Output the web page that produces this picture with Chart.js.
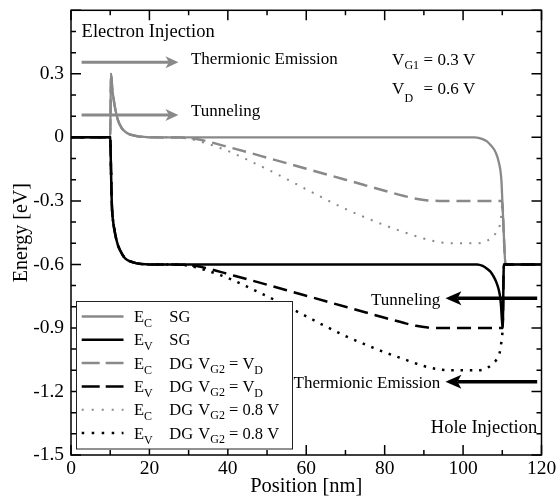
<!DOCTYPE html>
<html>
<head>
<meta charset="utf-8">
<title>Band edges</title>
<script src="https://cdn.jsdelivr.net/npm/chart.js@4.4.1/dist/chart.umd.min.js"></script>
<style>
    html, body { margin: 0; padding: 0; background: #fff; }
    canvas { display: block; }
</style>
</head>
<body>
<canvas id="bandChart" width="558" height="502"></canvas>
<script>
// Valores: posicion [nm] y energia [eV]
const ecSgPos = [0, 10, 10.2, 10.5, 11, 11.5, 12, 12.5, 13, 14, 15, 16, 17, 18, 20, 50, 80, 103, 105, 106, 107, 108, 108.7, 109.2, 109.5, 109.8, 110, 110.3, 110.6, 110.8, 120];
const ecSgEnergy = [0, 0, 0.3, 0.235, 0.165, 0.115, 0.08, 0.058, 0.042, 0.024, 0.014, 0.009, 0.005, 0.003, 0, 0, 0, 0, -0.008, -0.018, -0.036, -0.06, -0.09, -0.125, -0.154, -0.21, -0.296, -0.42, -0.546, -0.6, -0.6];

const evSgPos = [0, 10, 10.2, 10.4, 10.7, 11.1, 11.6, 12.1, 13, 13.8, 15, 16.8, 18, 20, 60, 100, 103.6, 105, 106.1, 107, 107.8, 108.5, 109.1, 109.5, 109.7, 109.9, 110.1, 110.4, 120];
const evSgEnergy = [0, 0, -0.15, -0.31, -0.39, -0.44, -0.485, -0.516, -0.55, -0.571, -0.585, -0.595, -0.598, -0.6, -0.6, -0.6, -0.6, -0.607, -0.62, -0.635, -0.658, -0.685, -0.72, -0.76, -0.8, -0.86, -0.9, -0.6, -0.6];

const ecDgPos = [0, 10, 10.2, 10.5, 11, 11.5, 12, 12.5, 13, 14, 15, 16, 17, 18, 20, 28, 32, 35, 40, 45, 50, 55, 60, 65, 70, 75, 80, 85, 88, 91, 94, 100, 109.9, 110.1, 110.3, 110.6, 110.8, 120];
const ecDgEnergy = [0, 0, 0.3, 0.235, 0.165, 0.115, 0.08, 0.058, 0.042, 0.024, 0.014, 0.009, 0.005, 0.003, 0, -0.001, -0.008, -0.02, -0.045, -0.07, -0.096, -0.122, -0.148, -0.174, -0.2, -0.226, -0.252, -0.277, -0.29, -0.298, -0.3, -0.3, -0.3, -0.33, -0.42, -0.546, -0.6, -0.6];

const evDgPos = [0, 10, 10.2, 10.4, 10.7, 11.1, 11.6, 12.1, 13, 13.8, 15, 16.8, 18, 20, 28, 32, 35, 40, 45, 50, 55, 60, 65, 70, 75, 80, 85, 88, 91, 94, 100, 110.1, 110.4, 120];
const evDgEnergy = [0, 0, -0.15, -0.31, -0.39, -0.44, -0.485, -0.516, -0.55, -0.571, -0.585, -0.595, -0.598, -0.6, -0.601, -0.608, -0.62, -0.645, -0.67, -0.696, -0.722, -0.748, -0.774, -0.8, -0.826, -0.852, -0.877, -0.89, -0.898, -0.9, -0.9, -0.9, -0.6, -0.6];

const ecDg08Pos = [0, 10, 10.2, 10.5, 11, 11.5, 12, 12.5, 13, 14, 15, 16, 17, 18, 20, 26, 30, 34, 38, 42, 46, 50, 55, 60, 65, 70, 75, 80, 85, 90, 94, 98, 104, 106, 107.5, 108.5, 109.3, 109.7, 110, 110.1];
const ecDg08Energy = [0, 0, 0.3, 0.235, 0.165, 0.115, 0.08, 0.058, 0.042, 0.024, 0.014, 0.009, 0.005, 0.003, 0, 0, -0.006, -0.025, -0.05, -0.08, -0.115, -0.15, -0.197, -0.245, -0.293, -0.338, -0.378, -0.415, -0.448, -0.478, -0.495, -0.5, -0.5, -0.49, -0.47, -0.448, -0.42, -0.375, -0.31, -0.3];

const evDg08Pos = [0, 10, 10.2, 10.4, 10.7, 11.1, 11.6, 12.1, 13, 13.8, 15, 16.8, 18, 20, 26, 30, 34, 38, 42, 46, 50, 55, 60, 65, 70, 75, 80, 85, 90, 94, 98, 104, 106, 107.5, 108.5, 109.3, 109.7, 110, 110.1];
const evDg08Energy = [0, 0, -0.15, -0.31, -0.39, -0.44, -0.485, -0.516, -0.55, -0.571, -0.585, -0.595, -0.598, -0.6, -0.6, -0.606, -0.625, -0.65, -0.68, -0.715, -0.75, -0.797, -0.845, -0.893, -0.938, -0.978, -1.015, -1.048, -1.08, -1.096, -1.1, -1.1, -1.09, -1.07, -1.05, -1.02, -0.975, -0.93, -0.9];

const xTickValues = [0, 20, 40, 60, 80, 100, 120];
const yTickValues = [-1.5, -1.2, -0.9, -0.6, -0.3, 0, 0.3];

const legendBand = ['C', 'V', 'C', 'V', 'C', 'V'];
const legendGate = ['SG', 'SG', 'DG', 'DG', 'DG', 'DG'];
const legendVg2 = ['', '', 'D', 'D', '0.8 V', '0.8 V'];

const FONT = "'Liberation Serif', 'Times New Roman', serif";
const GRAY = '#898989';

function toPoints(xs, ys) {
    return xs.map((v, i) => ({ x: v, y: ys[i] }));
}

function lineSet(xs, ys, color, width, dash, order) {
    return {
        data: toPoints(xs, ys),
        borderColor: color,
        borderWidth: width,
        borderDash: dash,
        borderCapStyle: 'butt',
        pointRadius: 0,
        fill: false,
        cubicInterpolationMode: 'monotone',
        order: order
    };
}

// Dibuja texto con subindice, devuelve la x final
function textSub(ctx, x, y, main, subTxt, size, subSize, drop) {
    ctx.font = size + 'px ' + FONT;
    ctx.fillText(main, x, y);
    const w = ctx.measureText(main).width;
    ctx.font = subSize + 'px ' + FONT;
    ctx.fillText(subTxt, x + w, y + drop);
    return x + w + ctx.measureText(subTxt).width;
}

function arrow(ctx, x1, y, x2, color, lw, headLen, half, notch) {
    const dir = Math.sign(x2 - x1);
    ctx.strokeStyle = color;
    ctx.fillStyle = color;
    ctx.lineWidth = lw;
    ctx.beginPath();
    ctx.moveTo(x1, y);
    ctx.lineTo(x2 - dir * (headLen - notch), y);
    ctx.stroke();
    ctx.beginPath();
    ctx.moveTo(x2, y);
    ctx.lineTo(x2 - dir * headLen, y - half);
    ctx.lineTo(x2 - dir * (headLen - notch), y);
    ctx.lineTo(x2 - dir * headLen, y + half);
    ctx.closePath();
    ctx.fill();
}

// Marco y marcas hacia adentro en los cuatro lados
const framePlugin = {
    id: 'frame',
    afterDatasetsDraw(chart) {
        const { ctx, chartArea: a, scales: { x, y } } = chart;
        ctx.save();
        ctx.strokeStyle = '#000';
        ctx.lineWidth = 1.5;
        ctx.beginPath();
        for (let v = 0; v <= 120; v += 10) {
            const px = x.getPixelForValue(v);
            const len = v % 20 === 0 ? 10 : 5;
            ctx.moveTo(px, a.bottom); ctx.lineTo(px, a.bottom - len);
            ctx.moveTo(px, a.top); ctx.lineTo(px, a.top + len);
        }
        for (let i = -15; i <= 6; i++) {
            const py = y.getPixelForValue(i / 10);
            const len = i % 3 === 0 ? 10 : 5;
            ctx.moveTo(a.left, py); ctx.lineTo(a.left + len, py);
            ctx.moveTo(a.right, py); ctx.lineTo(a.right - len, py);
        }
        ctx.stroke();
        ctx.strokeRect(a.left, a.top, a.right - a.left, a.bottom - a.top);
        ctx.restore();
    }
};

// Leyenda dentro del grafico
const legendPlugin = {
    id: 'bandLegend',
    afterDraw(chart) {
        const ctx = chart.ctx;
        const sets = chart.data.datasets;
        ctx.save();
        ctx.fillStyle = '#fff';
        ctx.fillRect(76.5, 301.5, 216, 147.5);
        ctx.strokeStyle = '#222';
        ctx.lineWidth = 1;
        ctx.strokeRect(76.5, 301.5, 216, 147.5);
        const legendDash = [[], [], [18, 6], [18, 6], [2, 8], [2.5, 7.5]];
        for (let i = 0; i < sets.length; i++) {
            const yc = 316.5 + i * 23.3;
            ctx.strokeStyle = sets[i].borderColor;
            ctx.lineWidth = sets[i].borderWidth;
            ctx.setLineDash(legendDash[i]);
            ctx.beginPath();
            ctx.moveTo(81.7, yc);
            ctx.lineTo(123.5, yc);
            ctx.stroke();
            ctx.setLineDash([]);
            ctx.fillStyle = '#000';
            ctx.textAlign = 'left';
            ctx.textBaseline = 'alphabetic';
            const base = yc + 5.5;
            textSub(ctx, 134, base, 'E', legendBand[i], 16.5, 12, 5);
            ctx.font = '16.5px ' + FONT;
            ctx.fillText(legendGate[i], 169.3, base);
            if (legendVg2[i]) {
                let xe = textSub(ctx, 198.3, base, 'V', 'G2', 16.5, 12, 4);
                if (legendVg2[i] === 'D') {
                    xe = textSub(ctx, xe, base, ' = V', 'D', 16.5, 12, 5);
                } else {
                    ctx.font = '16.5px ' + FONT;
                    ctx.fillText(' = ' + legendVg2[i], xe, base);
                }
            }
        }
        ctx.restore();
    }
};

// Flechas y textos
const notesPlugin = {
    id: 'notes',
    afterDraw(chart) {
        const { ctx, scales: { x, y } } = chart;
        const X = v => x.getPixelForValue(v);
        const Y = v => y.getPixelForValue(v);
        ctx.save();
        ctx.textBaseline = 'alphabetic';
        ctx.fillStyle = '#000';

        ctx.textAlign = 'left';
        ctx.font = '18.5px ' + FONT;
        ctx.fillText('Electron Injection', X(2.7), Y(0.472));

        arrow(ctx, X(2.7), Y(0.355), X(27.4), GRAY, 3, 13, 6, 3.5);
        arrow(ctx, X(2.7), Y(0.105), X(27.4), GRAY, 3, 13, 6, 3.5);
        ctx.fillStyle = '#000';
        ctx.font = '17px ' + FONT;
        ctx.fillText('Thermionic Emission', X(30.6), Y(0.355) + 2);
        ctx.fillText('Tunneling', X(30.6), Y(0.105) + 1);

        textSub(ctx, X(81.9), Y(0.341), 'V', 'G1', 17, 12, 3.5);
        textSub(ctx, X(81.9), Y(0.204), 'V', 'D', 17, 12, 7.5);
        ctx.font = '17px ' + FONT;
        ctx.textAlign = 'right';
        ctx.fillText('= 0.3 V', X(103.1), Y(0.341));
        ctx.fillText('= 0.6 V', X(103.1), Y(0.204));

        arrow(ctx, X(118.9), Y(-0.76), X(95.5), '#000', 3.5, 16, 7, 4);
        arrow(ctx, X(118.9), Y(-1.154), X(95.5), '#000', 3.5, 16, 7, 4);
        ctx.fillStyle = '#000';
        ctx.textAlign = 'right';
        ctx.font = '17px ' + FONT;
        ctx.fillText('Tunneling', X(94.2), Y(-0.76) + 7);
        ctx.fillText('Thermionic Emission', X(94.2), Y(-1.154) + 6);

        ctx.font = '18.5px ' + FONT;
        ctx.fillText('Hole Injection', X(118.9), Y(-1.3975));
        ctx.restore();
    }
};

const ctx = document.getElementById('bandChart').getContext('2d');
new Chart(ctx, {
    type: 'line',
    data: {
        datasets: [
            lineSet(ecSgPos, ecSgEnergy, GRAY, 2.3, [], 3),
            lineSet(evSgPos, evSgEnergy, '#000', 2.5, [], 0),
            lineSet(ecDgPos, ecDgEnergy, GRAY, 2.5, [14, 7], 4),
            lineSet(evDgPos, evDgEnergy, '#000', 2.5, [14, 7], 1),
            lineSet(ecDg08Pos, ecDg08Energy, GRAY, 2, [2, 7.3], 5),
            lineSet(evDg08Pos, evDg08Energy, '#000', 2.5, [2.5, 6.8], 2)
        ]
    },
    options: {
        responsive: false,
        animation: false,
        devicePixelRatio: 1,
        layout: { padding: { top: 10.3, right: 16.5, left: 0, bottom: 0 } },
        plugins: {
            legend: { display: false },
            tooltip: { enabled: false }
        },
        scales: {
            x: {
                type: 'linear',
                min: 0,
                max: 120,
                grid: { display: false, drawTicks: false },
                border: { display: false },
                afterBuildTicks: s => { s.ticks = xTickValues.map(v => ({ value: v })); },
                afterFit: s => {
                    s.height = 47;
                    s.paddingLeft = 0;
                    s.paddingRight = 0;
                },
                ticks: { color: '#000', font: { family: FONT, size: 19.5 }, padding: 2, maxRotation: 0, autoSkip: false },
                title: { display: true, text: 'Position [nm]', color: '#000', font: { family: FONT, size: 20.5 }, padding: { top: 0, bottom: 3.5 } }
            },
            y: {
                type: 'linear',
                min: -1.5,
                max: 0.6,
                grid: { display: false, drawTicks: false },
                border: { display: false },
                afterBuildTicks: s => { s.ticks = yTickValues.map(v => ({ value: v })); },
                afterFit: s => {
                    s.width = 71;
                    s.paddingTop = 0;
                    s.paddingBottom = 0;
                },
                ticks: {
                    color: '#000',
                    font: { family: FONT, size: 19.5 },
                    padding: 7,
                    autoSkip: false,
                    callback: v => (v === 0 ? '0' : v.toFixed(1))
                },
                title: { display: true, text: 'Energy [eV]', color: '#000', font: { family: FONT, size: 20 }, padding: { top: 9.5, bottom: 0 } }
            }
        }
    },
    plugins: [framePlugin, legendPlugin, notesPlugin]
});
</script>
</body>
</html>
